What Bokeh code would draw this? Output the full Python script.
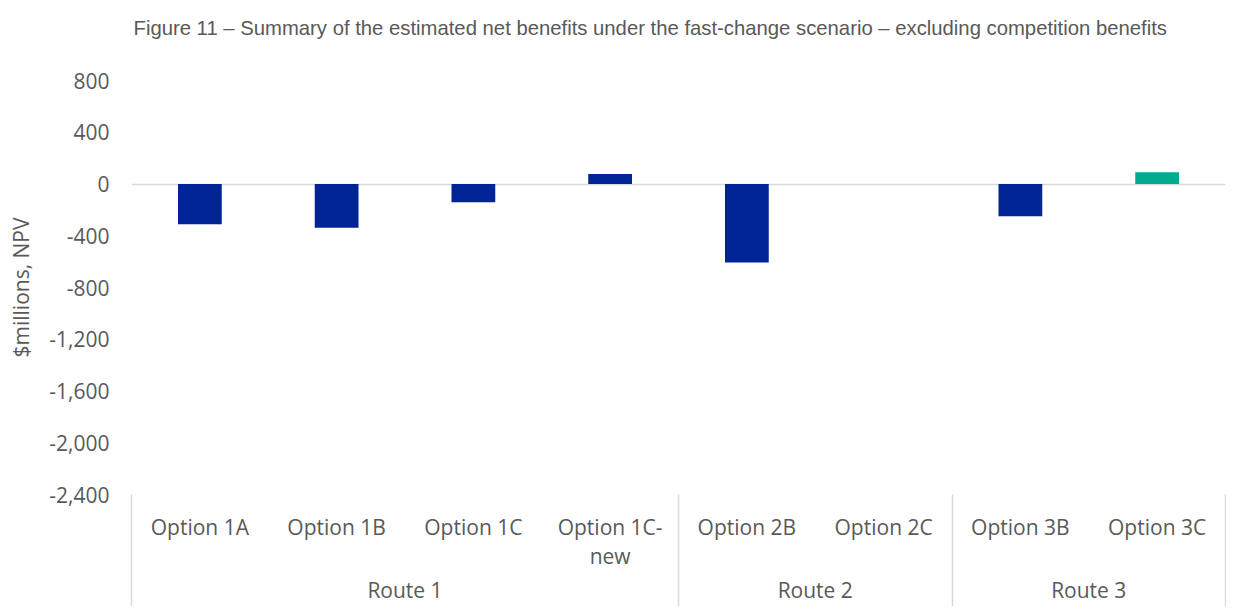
from bokeh.plotting import figure
from bokeh.models import (Range1d, LinearAxis, FixedTicker, Title,
                          NumeralTickFormatter, ColumnDataSource)
from bokeh.embed import file_html
from bokeh.resources import INLINE

# ---------------- data ----------------
title_text = ("Figure 11 \u2013 Summary of the estimated net benefits under the "
              "fast-change scenario \u2013 excluding competition benefits")
y_label = "$millions, NPV"
options = ["Option 1A", "Option 1B", "Option 1C", "Option 1C-\nnew",
           "Option 2B", "Option 2C", "Option 3B", "Option 3C"]
routes = ["Route 1", "Route 2", "Route 3"]
options_per_route = [4, 2, 2]
net_benefit = [-312, -339, -142, 78, -607, 0, -250, 91]
highlighted = [False, False, False, False, False, False, False, True]
y_ticks = [-2400, -2000, -1600, -1200, -800, -400, 0, 400, 800]

# ---------------- style ----------------
BLUE = "#002395"
GREEN = "#00AB8E"
TEXT = "#595959"
LINE = "#d9d9d9"
FONT = "Open Sans"
FS = "21px"

n = len(options)
xpos = [i + 0.5 for i in range(n)]
colors = [GREEN if h else BLUE for h in highlighted]
src = ColumnDataSource(dict(x=xpos, top=net_benefit, color=colors))

p = figure(width=1226, height=606,
           x_range=Range1d(0, n),
           y_range=Range1d(min(y_ticks), max(y_ticks)),
           output_backend="svg", toolbar_location=None,
           min_border_left=131, min_border_right=1,
           min_border_top=0, min_border_bottom=0)

p.outline_line_color = None
p.background_fill_color = "white"
p.border_fill_color = "white"

p.vbar(x="x", top="top", bottom=0, width=0.32, fill_color="color",
       line_color=None, source=src)

# grid: only zero line
p.xgrid.visible = False
p.ygrid.ticker = FixedTicker(ticks=[0])
p.ygrid.grid_line_color = LINE
p.ygrid.grid_line_width = 1.5

# real title (outer) + spacer title between it and the plot area
p.title.text = title_text
p.title.align = "left"
p.title.offset = 2
p.title.standoff = 29
p.title.vertical_align = "bottom"
p.title.text_font = "Liberation Sans"
p.title.text_font_size = "20.3px"
p.title.text_font_style = "normal"
p.title.text_color = TEXT
spacer = Title(text=" ", text_font_size="1px", standoff=24)
p.add_layout(spacer, "above")

# y axis
ya = p.yaxis[0]
ya.ticker = FixedTicker(ticks=y_ticks)
ya.formatter = NumeralTickFormatter(format="0,0")
ya.axis_line_color = None
ya.major_tick_line_color = None
ya.minor_tick_line_color = None
ya.major_tick_out = 0
ya.major_label_standoff = 22
ya.major_label_text_font = FONT
ya.major_label_text_font_size = FS
ya.major_label_text_color = TEXT
ya.axis_label = y_label
ya.axis_label_text_font = FONT
ya.axis_label_text_font_size = FS
ya.axis_label_text_font_style = "normal"
ya.axis_label_text_color = TEXT
ya.axis_label_standoff = 11

# x axis (options)
xa = p.xaxis[0]
xa.ticker = FixedTicker(ticks=xpos, minor_ticks=[])
xa.major_label_overrides = {x: o for x, o in zip(xpos, options)}
xa.axis_line_color = None
xa.major_tick_line_color = None
xa.minor_tick_line_color = None
xa.major_tick_out = 0
xa.major_tick_in = 0
xa.major_label_standoff = 18
xa.major_label_text_font = FONT
xa.major_label_text_font_size = FS
xa.major_label_text_color = TEXT
xa.major_label_text_align = "center"
xa.major_label_text_line_height = 1.06

# route axis (group labels)
bounds = [0]
for c in options_per_route:
    bounds.append(bounds[-1] + c)
centers = [(bounds[i] + bounds[i + 1]) / 2 for i in range(len(routes))]
centers = [int(c) if float(c).is_integer() else c for c in centers]
ra = LinearAxis(ticker=FixedTicker(ticks=centers, minor_ticks=[]))
ra.major_label_overrides = {c: r for c, r in zip(centers, routes)}
ra.axis_line_color = None
ra.major_tick_line_color = None
ra.minor_tick_line_color = None
ra.major_tick_out = 0
ra.major_tick_in = 0
ra.minor_tick_out = 0
ra.minor_tick_in = 0
ra.major_label_standoff = 2
ra.major_label_text_font = FONT
ra.major_label_text_font_size = FS
ra.major_label_text_color = TEXT
p.add_layout(ra, "below")

# separator axis: group boundary lines running up to the plot area
sa = LinearAxis(ticker=FixedTicker(ticks=[], minor_ticks=bounds))
sa.axis_line_color = None
sa.major_tick_line_color = None
sa.major_tick_out = 0
sa.major_tick_in = 0
sa.minor_tick_out = 0
sa.minor_tick_in = 112
sa.minor_tick_line_color = LINE
sa.minor_tick_line_width = 1.5
sa.major_label_standoff = 0
sa.major_label_text_font_size = "1px"
p.add_layout(sa, "below")

open("out.html", "w").write(file_html(p, INLINE))
